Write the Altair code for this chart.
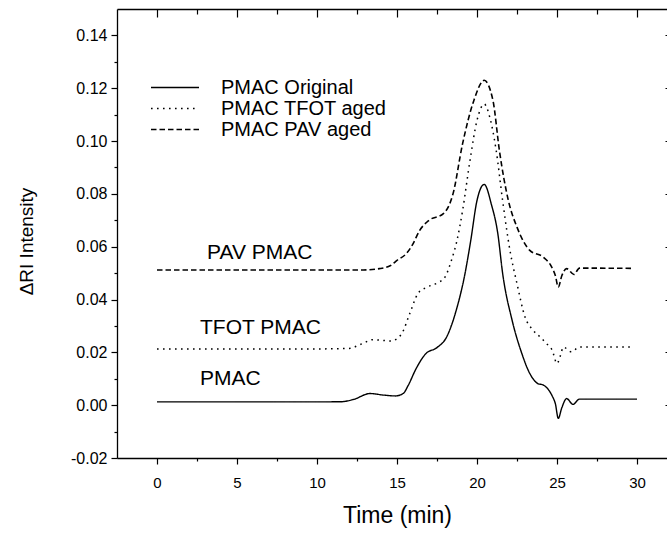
import altair as alt
import pandas as pd

FONT = "Liberation Sans"

series_names = ["PMAC Original", "PMAC TFOT aged", "PMAC PAV aged"]

orig_t = [0, 5, 10, 11.5, 12.3, 13.3, 14.2, 14.9, 15.4, 15.7, 16.2, 16.8, 17.5, 18.1, 18.7,
          19.25, 19.6, 20.0, 20.45, 20.9, 21.3, 21.6, 22.2, 22.8, 23.3, 23.8, 24.15, 24.45,
          24.7, 24.9, 25.08, 25.3, 25.6, 26.0, 26.4, 30]
orig_v = [0.00125, 0.00125, 0.00125, 0.0013, 0.0022, 0.0044, 0.0038, 0.0035, 0.0045, 0.0075,
          0.0139, 0.0195, 0.0218, 0.0258, 0.0359, 0.0498, 0.062, 0.0775, 0.0836, 0.076, 0.065,
          0.050, 0.032, 0.0196, 0.012, 0.0082, 0.0076, 0.0060, 0.0035, 0.0005, -0.0050, -0.001,
          0.0025, 0.0003, 0.0023, 0.0023]

tfot_t = [0, 5, 10, 12.0, 12.8, 13.5, 14.0, 14.6, 15.0, 15.3, 15.8, 16.3, 16.8, 17.5, 18.0,
          18.4, 18.75, 19.1, 19.56, 20.0, 20.45, 20.8, 21.2, 21.6, 22.06, 22.5, 23.0, 23.5,
          24.0, 24.35, 24.7, 25.0, 25.2, 25.4, 25.9, 26.4, 29.7]
tfot_v = [0.0213, 0.0213, 0.0213, 0.0215, 0.0232, 0.0248, 0.0246, 0.0243, 0.0252, 0.0271,
          0.0347, 0.0422, 0.0445, 0.0462, 0.0485, 0.0548, 0.0624, 0.0737, 0.0926, 0.1078,
          0.1140, 0.109, 0.0964, 0.0775, 0.0586, 0.046, 0.0334, 0.0284, 0.0255, 0.0233,
          0.0208, 0.0158, 0.0185, 0.0220, 0.0202, 0.0220, 0.0220]

pav_t = [0, 5, 10, 12.9, 13.9, 14.6, 15.0, 15.6, 16.0, 16.4, 17.0, 17.9, 18.5, 19.1, 19.8,
         20.45, 21.0, 21.4, 21.96, 22.5, 23.3, 24.15, 24.67, 24.9, 25.08, 25.3, 25.6, 26.06,
         26.4, 29.7]
pav_v = [0.0512, 0.0512, 0.0512, 0.0512, 0.0517, 0.0529, 0.0548, 0.0575, 0.0611, 0.066,
         0.0700, 0.0725, 0.0800, 0.0990, 0.1153, 0.1230, 0.1153, 0.0964, 0.0775, 0.0674,
         0.0586, 0.0560, 0.0523, 0.0490, 0.0447, 0.0490, 0.0517, 0.0495, 0.0519, 0.0518]

note_labels = ["PAV PMAC", "TFOT PMAC", "PMAC"]
note_t = [3.125, 2.69, 2.69]
note_v = [0.0552, 0.0269, 0.0076]

x_major = [0, 5, 10, 15, 20, 25, 30]
x_minor = [2.5, 7.5, 12.5, 17.5, 22.5, 27.5]
y_major = [-0.02, 0.0, 0.02, 0.04, 0.06, 0.08, 0.10, 0.12, 0.14]
y_minor = [-0.01, 0.01, 0.03, 0.05, 0.07, 0.09, 0.11, 0.13]

rows = []
for name, ts, vs in zip(series_names, [orig_t, tfot_t, pav_t], [orig_v, tfot_v, pav_v]):
    for t, v in zip(ts, vs):
        rows.append({"series": name, "t": t, "v": v})
df = pd.DataFrame(rows)
notes = pd.DataFrame({"label": note_labels, "t": note_t, "v": note_v})

xscale = alt.Scale(domain=[-2.5, 31.875], nice=False, zero=False)
yscale = alt.Scale(domain=[-0.02, 0.15], nice=False, zero=False)

lines = alt.Chart(df).mark_line(color="black", interpolate="monotone").encode(
    x=alt.X("t:Q", scale=xscale, axis=alt.Axis(
        values=x_major, format="d", tickSize=6, tickWidth=1.2, tickColor="black",
        domainColor="black", domainWidth=1.3, labelFont=FONT, labelFontSize=15,
        labelColor="black", labelPadding=11, grid=False, title="Time (min)",
        titleFont=FONT, titleFontSize=23, titleFontWeight="normal", titleColor="black",
        titleBaseline="alphabetic", titleY=64, titleX=280, labelFlush=False)),
    y=alt.Y("v:Q", scale=yscale, axis=alt.Axis(
        values=y_major, tickSize=6, tickWidth=1.2, tickColor="black", domainColor="black",
        domainWidth=1.3, labelFont=FONT, labelFontSize=16, labelColor="black",
        labelPadding=4, grid=False,
        labelExpr="replace(format(datum.value, '.2f'), '\u2212', '-')",
        title="\u0394RI Intensity", titleFont=FONT, titleFontSize=19,
        titleFontWeight="normal", titleColor="black", titleAngle=270,
        titleBaseline="alphabetic", titleAlign="center", titleX=-85, titleY=232,
        labelFlush=False)),
    strokeDash=alt.StrokeDash("series:N", scale=alt.Scale(
        domain=series_names, range=[[1, 0], [1.6, 4.4], [5.5, 3]]),
        legend=alt.Legend(title=None, orient="none", legendX=33, legendY=69,
                          symbolType="stroke", symbolSize=2304, symbolStrokeWidth=1.4,
                          symbolStrokeColor="black", labelFont=FONT, labelFontSize=20,
                          labelColor="black", labelOffset=21, labelLimit=400,
                          rowPadding=0, clipHeight=19, padding=0)),
    strokeWidth=alt.StrokeWidth("series:N", scale=alt.Scale(
        domain=series_names, range=[1.4, 1.6, 1.4]), legend=None),
)

def ghost():
    return alt.Chart(df).mark_point(opacity=0)

bottom_minor = ghost().encode(
    x=alt.X("t:Q", scale=xscale, axis=alt.Axis(values=x_minor, orient="bottom", tickSize=3,
            tickWidth=1.2, tickColor="black", labels=False, domain=False, grid=False,
            title=None)),
    y=alt.Y("v:Q", scale=yscale, axis=None))
left_minor = ghost().encode(
    x=alt.X("t:Q", scale=xscale, axis=None),
    y=alt.Y("v:Q", scale=yscale, axis=alt.Axis(values=y_minor, orient="left", tickSize=3,
            tickWidth=1.2, tickColor="black", labels=False, domain=False, grid=False,
            title=None)))
top_line = ghost().encode(
    x=alt.X("t:Q", scale=xscale, axis=alt.Axis(orient="top", ticks=False, labels=False,
            domain=True, domainColor="black", domainWidth=1.3, grid=False, title=None)),
    y=alt.Y("v:Q", scale=yscale, axis=None))
top_major = ghost().encode(
    x=alt.X("t:Q", scale=xscale, axis=alt.Axis(values=x_major, orient="top", tickSize=8,
            offset=-8, tickWidth=1.2, tickColor="black", labels=False, domain=False,
            grid=False, title=None)),
    y=alt.Y("v:Q", scale=yscale, axis=None))
top_minor = ghost().encode(
    x=alt.X("t:Q", scale=xscale, axis=alt.Axis(values=x_minor, orient="top", tickSize=5,
            offset=-5, tickWidth=1.2, tickColor="black", labels=False, domain=False,
            grid=False, title=None)),
    y=alt.Y("v:Q", scale=yscale, axis=None))
right_major = ghost().encode(
    x=alt.X("t:Q", scale=xscale, axis=None),
    y=alt.Y("v:Q", scale=yscale, axis=alt.Axis(values=y_major, orient="right", tickSize=2,
            offset=-2, tickWidth=1.2, tickColor="black", labels=False, domain=False,
            grid=False, title=None)))

texts = alt.Chart(notes).mark_text(align="left", baseline="alphabetic", font=FONT,
                                   fontSize=21, color="black").encode(
    x=alt.X("t:Q", scale=xscale, axis=None),
    y=alt.Y("v:Q", scale=yscale, axis=None),
    text="label:N")

chart = alt.layer(lines, bottom_minor, left_minor, top_line, top_major, top_minor,
                  right_major, texts).resolve_axis(x="independent", y="independent").properties(
    width=550, height=449,
    padding={"left": 117, "top": 9, "right": 0, "bottom": 77},
    autosize=alt.AutoSizeParams(type="none"),
    background="white",
).configure_view(stroke=None)

chart.save("out.html", embed_options={"renderer": "svg", "actions": False})
